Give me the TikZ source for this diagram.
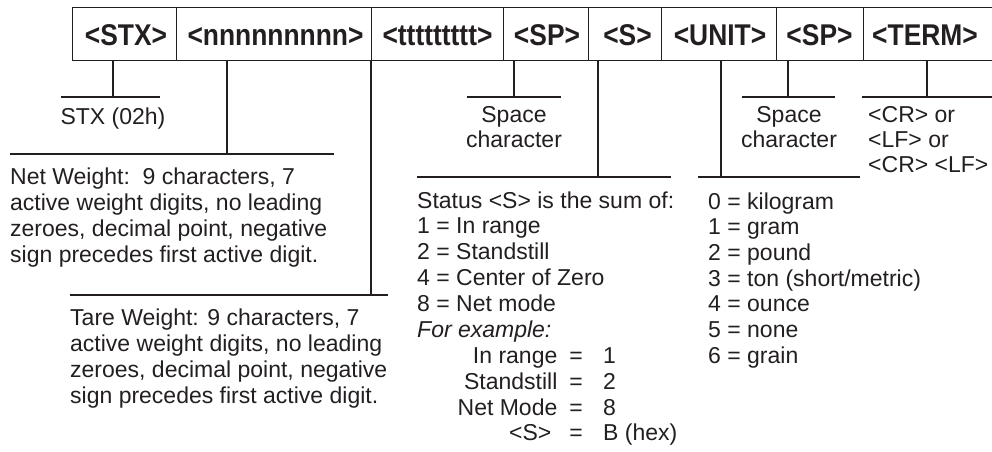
\documentclass[tikz,border=0pt]{standalone}
\usepackage{fontspec}
\setmainfont{Liberation Sans}
\newfontfamily\hdrfont[FakeStretch=0.88]{Liberation Sans}
\definecolor{ink}{RGB}{35,31,32}
\begin{document}
\begin{tikzpicture}[x=1pt,y=-1pt,
  cell/.style={draw=ink, line width=1.2pt, minimum height=53pt, inner sep=0pt, anchor=north west},
  hdr/.style={font=\hdrfont\bfseries\fontsize{30}{32}\selectfont, text=ink, inner sep=0pt, anchor=base},
  txt/.style={font=\fontsize{23}{26}\selectfont, text=ink, inner sep=0pt, anchor=base west},
  ctr/.style={txt, anchor=base},
  rgt/.style={txt, anchor=base east},
  wire/.style={draw=ink, line width=1.2pt}]
\useasboundingbox (0,0) rectangle (992,451);
% header cells
\node[cell, minimum width=104pt] (c1) at (72,7) {};
\node[cell, minimum width=195pt] (c2) at (176,7) {};
\node[cell, minimum width=132pt] (c3) at (371,7) {};
\node[cell, minimum width=85pt]  (c4) at (503,7) {};
\node[cell, minimum width=73pt]  (c5) at (588,7) {};
\node[cell, minimum width=115pt] (c6) at (661,7) {};
\node[cell, minimum width=87pt]  (c7) at (776,7) {};
\node[cell, minimum width=137pt] (c8) at (863,7) {};
\node[hdr] (l1) at (126,45.5) {<STX>};
\node[hdr] (l2) at (275.5,45.5) {<nnnnnnnnn>};
\node[hdr] (l3) at (437.5,45.5) {<ttttttttt>};
\node[hdr] (l4) at (547,45.5) {<SP>};
\node[hdr] (l5) at (627.5,45.5) {<S>};
\node[hdr] (l6) at (720,45.5) {<UNIT>};
\node[hdr] (l7) at (819.5,45.5) {<SP>};
\node[hdr] (l8) at (925,45.5) {<TERM>};
% tick ends
\coordinate (t1) at (113,97);  \coordinate (a1) at (61,97);  \coordinate (b1) at (160,97);
\coordinate (t2) at (227,154); \coordinate (a2) at (10,154);  \coordinate (b2) at (334,154);
\coordinate (t3) at (371,295); \coordinate (a3) at (70,295);  \coordinate (b3) at (388,295);
\coordinate (t4) at (514,97);  \coordinate (a4) at (467,97); \coordinate (b4) at (561,97);
\coordinate (t5) at (598,177); \coordinate (a5) at (417,177); \coordinate (b5) at (671,177);
\coordinate (t6) at (721,177); \coordinate (a6) at (698,177); \coordinate (b6) at (860,177);
\coordinate (t7) at (788,97);  \coordinate (a7) at (742,97); \coordinate (b7) at (835,97);
\coordinate (t8) at (927,97);  \coordinate (a8) at (862,97); \coordinate (b8) at (1000,97);
\foreach \k in {1,...,8}{
  \draw[wire] (t\k |- c\k.south) -- (t\k);
  \draw[wire] (a\k) -- (b\k);
}
% short labels
\node[ctr] (stx) at (113,124) {STX (02h)};
\node[ctr] (sp1a) at (514,122) {Space};
\node[ctr] (sp1b) at (514,147) {character};
\node[ctr] (sp2a) at (789,122) {Space};
\node[ctr] (sp2b) at (789,147) {character};
\node[txt] (cr1) at (868,122) {<CR> or};
\node[txt] (cr2) at (868,147) {<LF> or};
\node[txt] (cr3) at (868,172) {<CR> <LF>};
% net weight
\foreach \t [count=\i] in {{Net Weight:\ \ 9 characters, 7},{active weight digits, no leading},{zeroes, decimal point, negative},{sign precedes first active digit.}}
  \node[txt] (net\i) at (10,{184+26*(\i-1)}) {\t};
% tare weight
\foreach \t [count=\i] in {{Tare Weight: 9 characters, 7},{active weight digits, no leading},{zeroes, decimal point, negative},{sign precedes first active digit.}}
  \node[txt] (tare\i) at (70,{325+26*(\i-1)}) {\t};
% status
\foreach \t [count=\i] in {{Status <S> is the sum of:},{1 = In range},{2 = Standstill},{4 = Center of Zero},{8 = Net mode},{\itshape For example:}}
  \node[txt] (st\i) at (417,{208+25.8*(\i-1)}) {\t};
\node[rgt] (ex1) at (583,363) {In range\hspace{12pt}=};
\node[txt] (ev1) at (603,363) {1};
\node[rgt] (ex2) at (583,389) {Standstill\hspace{12pt}=};
\node[txt] (ev2) at (603,389) {2};
\node[rgt] (ex3) at (583,415) {Net Mode\hspace{12pt}=};
\node[txt] (ev3) at (603,415) {8};
\node[rgt] (ex4) at (583,440) {<S>\hspace{18pt}=};
\node[txt] (ev4) at (603,440) {B (hex)};
% units
\foreach \t [count=\i] in {{0 = kilogram},{1 = gram},{2 = pound},{3 = ton (short/metric)},{4 = ounce},{5 = none},{6 = grain}}
  \node[txt] (u\i) at (708,{209+25.7*(\i-1)}) {\t};
\end{tikzpicture}
\end{document}
